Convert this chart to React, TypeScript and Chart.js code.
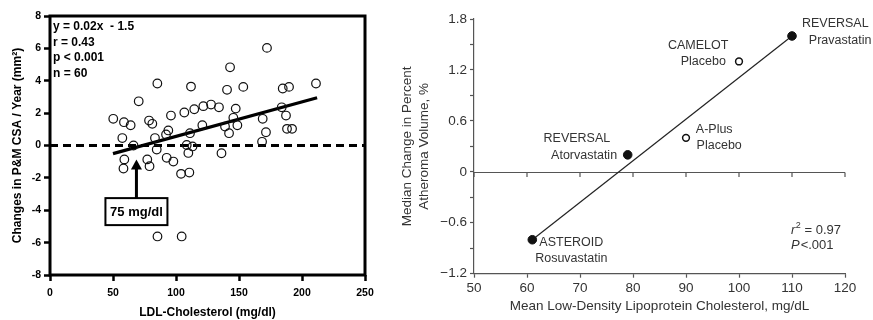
import React, { useEffect, useRef } from "react";
import { Chart, registerables } from "chart.js";

Chart.register(...registerables);

const FONT = "'Liberation Sans', Arial, Helvetica, sans-serif";

// ---------------- Left panel data ----------------
const ldlValues = [
  50.2, 57.4, 58.7, 64.0, 66.3, 70.4, 78.6, 81.2, 85.2, 83.3,
  84.7, 92.1, 93.9, 96.0, 106.6, 111.1, 111.9, 114.5, 120.9, 121.7,
  127.8, 134.1, 140.5, 142.9, 153.4, 145.5, 147.4, 148.7, 138.9, 142.1,
  168.8, 171.4, 172.2, 183.9, 187.3, 188.1, 192.1, 184.7, 189.7, 211.1,
  168.3, 108.5, 113.1, 109.8, 136.1, 59.0, 58.3, 77.2, 79.0, 92.6,
  97.9, 104.0, 110.6, 85.3, 104.5,
];
const csaChanges = [
  1.65, 0.46, 1.44, 1.25, 0.0, 2.73, 1.54, 1.34, 3.83, 0.46,
  -0.25, 0.68, 0.93, 1.85, 2.04, 0.76, 3.64, 2.24, 1.25, 2.43,
  2.53, 2.36, 3.44, 4.83, 3.62, 1.71, 2.28, 1.25, 1.17, 0.76,
  1.65, 0.82, 6.03, 2.36, 1.85, 1.03, 1.03, 3.52, 3.62, 3.83,
  0.23, 0.03, -0.06, -0.46, -0.48, -0.86, -1.42, -0.86, -1.28, -0.76,
  -0.99, -1.75, -1.67, -5.62, -5.62,
];
const leftRegX = [50, 212];
const leftRegY = [-0.5, 2.95];
const leftXTicks = [0, 50, 100, 150, 200, 250];
const leftYTicks = [-8, -6, -4, -2, 0, 2, 4, 6, 8];
const statsLines = ["y = 0.02x  - 1.5", "r = 0.43", "p < 0.001", "n = 60"];
const thresholdLabel = "75 mg/dl";
const arrowX = 68.6;
const arrowTipY = -0.86;
const arrowTailY = -3.25;

// ---------------- Right panel data ----------------
const trialNames = ["ASTEROID", "REVERSAL", "A-Plus", "CAMELOT", "REVERSAL"];
const trialArms = ["Rosuvastatin", "Atorvastatin", "Placebo", "Placebo", "Pravastatin"];
const trialLDL = [61, 79, 90, 100, 110];
const trialChange = [-0.8, 0.2, 0.4, 1.3, 1.6];
const trialFilled = [true, true, false, false, true];
const rightRegX = [61, 110];
const rightRegY = [-0.8, 1.6];
const rightXTicks = [50, 60, 70, 80, 90, 100, 110, 120];
const fitLines = ["0.97", ".001"];

// label offsets (px) from each point: [name line, arm line]
const labelOffsets = [
  [[39, 3.3], [39, 19.3]],
  [[-50.8, -16], [-43.6, 0.7]],
  [[28.2, -8.4], [33.2, 7.3]],
  [[-40.8, -16], [-35.7, 0]],
  [[43.3, -12.4], [48.1, 4.3]],
];

function LeftChart() {
  const ref = useRef<HTMLCanvasElement | null>(null);
  useEffect(() => {
    if (!ref.current) return;
    const decor = {
      id: "leftDecor",
      beforeDatasetsDraw(chart: any) {
        const { ctx, chartArea: a, scales } = chart;
        const y0 = scales.y.getPixelForValue(0);
        ctx.save();
        ctx.strokeStyle = "#000";
        ctx.lineWidth = 3;
        ctx.setLineDash([8, 5]);
        ctx.beginPath();
        ctx.moveTo(a.left, y0);
        ctx.lineTo(a.right, y0);
        ctx.stroke();
        ctx.restore();
      },
      afterDatasetsDraw(chart: any) {
        const { ctx, chartArea: a, scales } = chart;
        const sx = scales.x;
        const sy = scales.y;
        ctx.save();
        // frame
        ctx.strokeStyle = "#000";
        ctx.lineWidth = 3;
        ctx.strokeRect(a.left, a.top, a.right - a.left, a.bottom - a.top);
        // stats text
        ctx.fillStyle = "#000";
        ctx.font = `bold 12px ${FONT}`;
        ctx.textAlign = "left";
        ctx.textBaseline = "middle";
        statsLines.forEach((t, i) => {
          ctx.fillText(t, a.left + 3, a.top + 11 + i * 15.4);
        });
        // arrow
        const ax = sx.getPixelForValue(arrowX);
        const tip = sy.getPixelForValue(arrowTipY);
        const tail = sy.getPixelForValue(arrowTailY);
        ctx.lineWidth = 3;
        ctx.beginPath();
        ctx.moveTo(ax, tail);
        ctx.lineTo(ax, tip + 8);
        ctx.stroke();
        ctx.beginPath();
        ctx.moveTo(ax, tip);
        ctx.lineTo(ax - 5.5, tip + 10);
        ctx.lineTo(ax + 5.5, tip + 10);
        ctx.closePath();
        ctx.fill();
        // box
        const bw = 62;
        const bh = 27;
        ctx.fillStyle = "#fff";
        ctx.fillRect(ax - bw / 2, tail, bw, bh);
        ctx.lineWidth = 2;
        ctx.strokeRect(ax - bw / 2, tail, bw, bh);
        ctx.fillStyle = "#000";
        ctx.font = `bold 13px ${FONT}`;
        ctx.textAlign = "center";
        ctx.fillText(thresholdLabel, ax, tail + bh / 2 + 0.5);
        ctx.restore();
      },
    };
    const chart = new Chart(ref.current, {
      type: "scatter",
      data: {
        datasets: [
          {
            data: ldlValues.map((v, i) => ({ x: v, y: csaChanges[i] })),
            pointStyle: "circle",
            pointRadius: 4.3,
            pointBorderWidth: 1.2,
            pointBorderColor: "#111",
            pointBackgroundColor: "rgba(255,255,255,0)",
          },
          {
            data: leftRegX.map((v, i) => ({ x: v, y: leftRegY[i] })),
            showLine: true,
            borderColor: "#000",
            borderWidth: 3.2,
            pointRadius: 0,
          },
        ],
      },
      options: {
        responsive: false,
        animation: false,
        devicePixelRatio: 1,
        layout: { padding: { top: 16, right: 20, left: 0, bottom: 0 } },
        plugins: { legend: { display: false }, tooltip: { enabled: false } },
        scales: {
          x: {
            type: "linear",
            min: 0,
            max: 250,
            afterBuildTicks: (s: any) => {
              s.ticks = leftXTicks.map((v) => ({ value: v }));
            },
            afterFit: (s: any) => {
              s.height = 45;
            },
            border: { display: false },
            grid: {
              drawOnChartArea: false,
              drawTicks: true,
              tickLength: 6,
              tickWidth: 2.5,
              tickColor: "#000",
              color: "#000",
            },
            ticks: {
              color: "#000",
              font: { family: FONT, size: 10.5, weight: "bold" },
              padding: 6,
              maxRotation: 0,
            },
            title: {
              display: true,
              text: "LDL-Cholesterol (mg/dl)",
              color: "#000",
              font: { family: FONT, size: 12, weight: "bold" },
              padding: { top: 0, bottom: 0 },
            },
          },
          y: {
            type: "linear",
            min: -8,
            max: 8,
            afterBuildTicks: (s: any) => {
              s.ticks = leftYTicks.map((v) => ({ value: v }));
            },
            afterFit: (s: any) => {
              s.width = 50;
            },
            border: { display: false },
            grid: {
              drawOnChartArea: false,
              drawTicks: true,
              tickLength: 6,
              tickWidth: 2.5,
              tickColor: "#000",
              color: "#000",
            },
            ticks: {
              color: "#000",
              font: { family: FONT, size: 10.5, weight: "bold" },
              padding: 3,
            },
            title: {
              display: true,
              text: "Changes in P&M CSA / Year (mm²)",
              color: "#000",
              font: { family: FONT, size: 12, weight: "bold" },
              padding: { top: 10, bottom: 0 },
            },
          },
        },
      },
      plugins: [decor],
    } as any);
    return () => chart.destroy();
  }, []);
  return (
    <canvas
      ref={ref}
      width={385}
      height={320}
      style={{ position: "absolute", left: 0, top: 0, width: 385, height: 320 }}
    />
  );
}

function fmtRight(v: number) {
  const r = Math.round(v * 10) / 10;
  if (Math.abs(r) < 1e-9) return "0";
  return (r < 0 ? "\u2212" : "") + Math.abs(r).toFixed(1);
}

function RightChart() {
  const ref = useRef<HTMLCanvasElement | null>(null);
  useEffect(() => {
    if (!ref.current) return;
    const TXT = "#333";
    const AX = "#555";
    const decor = {
      id: "rightDecor",
      beforeDatasetsDraw(chart: any) {
        const { ctx, chartArea: a, scales } = chart;
        const y0 = Math.round(scales.y.getPixelForValue(0)) + 0.5;
        ctx.save();
        ctx.strokeStyle = AX;
        ctx.lineWidth = 1.2;
        ctx.beginPath();
        ctx.moveTo(a.left, y0);
        ctx.lineTo(a.right, y0);
        rightXTicks.forEach((t) => {
          const px = scales.x.getPixelForValue(t);
          ctx.moveTo(px, y0);
          ctx.lineTo(px, y0 + 4.5);
        });
        ctx.stroke();
        ctx.restore();
      },
      afterDatasetsDraw(chart: any) {
        const { ctx, chartArea: a, scales } = chart;
        ctx.save();
        ctx.fillStyle = TXT;
        ctx.font = `12.5px ${FONT}`;
        ctx.textAlign = "center";
        ctx.textBaseline = "middle";
        trialLDL.forEach((v, i) => {
          const px = scales.x.getPixelForValue(v);
          const py = scales.y.getPixelForValue(trialChange[i]);
          const [o1, o2] = labelOffsets[i];
          ctx.fillText(trialNames[i], px + o1[0], py + o1[1]);
          ctx.fillText(trialArms[i], px + o2[0], py + o2[1]);
        });
        // fit statistics
        ctx.textAlign = "left";
        const lx = a.left + 317;
        const l1 = 230;
        const l2 = 245.7;
        ctx.font = `italic 13px ${FONT}`;
        ctx.fillText("r", lx, l1);
        let w = ctx.measureText("r").width;
        ctx.font = `9px ${FONT}`;
        ctx.fillText("2", lx + w + 0.5, l1 - 4.5);
        const w2 = ctx.measureText("2").width;
        ctx.font = `13px ${FONT}`;
        ctx.fillText(" = " + fitLines[0], lx + w + w2 + 0.5, l1);
        ctx.font = `italic 13px ${FONT}`;
        ctx.fillText("P", lx, l2);
        w = ctx.measureText("P").width;
        ctx.font = `13px ${FONT}`;
        ctx.fillText("<" + fitLines[1], lx + w + 1, l2);
        ctx.restore();
      },
    };
    const chart = new Chart(ref.current, {
      type: "scatter",
      data: {
        datasets: [
          {
            data: trialLDL.map((v, i) => ({ x: v, y: trialChange[i] })),
            pointStyle: "circle",
            pointRadius: trialFilled.map((f) => (f ? 4.3 : 3.4)),
            pointBorderWidth: trialFilled.map((f) => (f ? 1 : 1.5)),
            pointBorderColor: "#111",
            pointBackgroundColor: trialFilled.map((f) => (f ? "#111" : "#fff")),
          },
          {
            data: rightRegX.map((v, i) => ({ x: v, y: rightRegY[i] })),
            showLine: true,
            borderColor: "#222",
            borderWidth: 1.2,
            pointRadius: 0,
          },
        ],
      },
      options: {
        responsive: false,
        animation: false,
        devicePixelRatio: 1,
        layout: { padding: { top: 19, right: 28, left: 0, bottom: 0 } },
        plugins: { legend: { display: false }, tooltip: { enabled: false } },
        scales: {
          x: {
            type: "linear",
            min: 50,
            max: 120,
            afterBuildTicks: (s: any) => {
              s.ticks = rightXTicks.map((v) => ({ value: v }));
            },
            afterFit: (s: any) => {
              s.height = 46.3;
            },
            border: { display: true, color: AX, width: 1.2 },
            grid: {
              drawOnChartArea: false,
              drawTicks: true,
              tickLength: 4,
              tickColor: AX,
              tickWidth: 1.2,
            },
            ticks: {
              color: TXT,
              font: { family: FONT, size: 13.5 },
              padding: 2,
              maxRotation: 0,
            },
            title: {
              display: true,
              text: "Mean Low-Density Lipoprotein Cholesterol, mg/dL",
              color: TXT,
              font: { family: FONT, size: 13.5, lineHeight: 1.25 },
              padding: { top: 0, bottom: 5 },
            },
          },
          y: {
            type: "linear",
            min: -1.2,
            max: 1.8,
            afterBuildTicks: (s: any) => {
              const t = [];
              for (let k = 0; k <= 10; k++) t.push({ value: Math.round((-1.2 + 0.3 * k) * 10) / 10 });
              s.ticks = t;
            },
            afterFit: (s: any) => {
              s.width = 89;
            },
            border: { display: true, color: AX, width: 1.2 },
            grid: {
              drawOnChartArea: false,
              drawTicks: true,
              tickLength: 4,
              tickColor: AX,
              tickWidth: 1.2,
            },
            ticks: {
              color: TXT,
              font: { family: FONT, size: 13.5 },
              padding: 3,
              autoSkip: false,
              callback: (v: any) => {
                const n = Number(v);
                const k = Math.round(n / 0.6);
                return Math.abs(k * 0.6 - n) < 1e-6 ? fmtRight(n) : "";
              },
            },
            title: {
              display: true,
              text: ["Median Change in Percent", "Atheroma Volume, %"],
              color: TXT,
              font: { family: FONT, size: 13.5, lineHeight: 1.25 },
              padding: { top: 13.5, bottom: 0 },
            },
          },
        },
      },
      plugins: [decor],
    } as any);
    return () => chart.destroy();
  }, []);
  return (
    <canvas
      ref={ref}
      width={488}
      height={320}
      style={{ position: "absolute", left: 385, top: 0, width: 488, height: 320 }}
    />
  );
}

export default function App() {
  return (
    <div
      style={{
        position: "absolute",
        left: 0,
        top: 0,
        width: 873,
        height: 320,
        background: "#fff",
        overflow: "hidden",
      }}
    >
      <LeftChart />
      <RightChart />
    </div>
  );
}
